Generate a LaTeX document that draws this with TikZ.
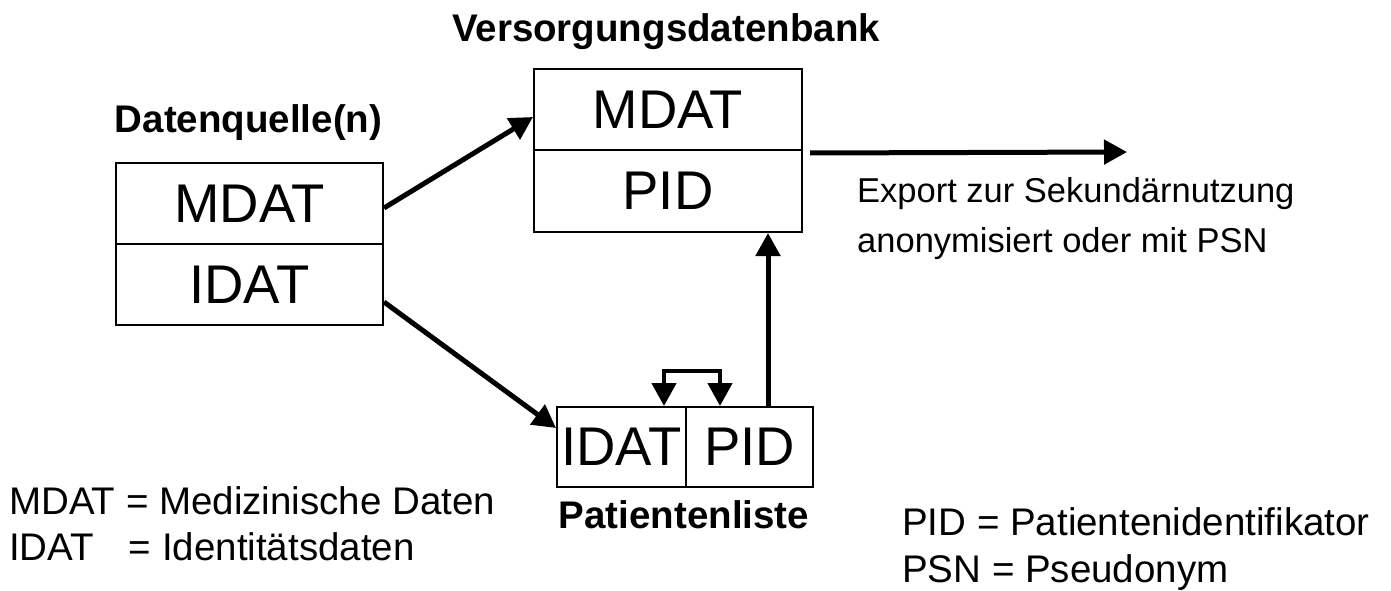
\documentclass[tikz,border=0pt]{standalone}
\usepackage{fontspec}
\setmainfont{Liberation Sans}
\usetikzlibrary{arrows.meta,calc}
\tikzset{
  cell/.style={draw, line width=2pt, inner sep=0pt, font=\fontsize{54.5}{60}\selectfont},
  title/.style={font=\bfseries\fontsize{38.5}{44}\selectfont, inner sep=0pt},
  note/.style={font=\fontsize{38.5}{44}\selectfont, inner sep=0pt},
  small/.style={font=\fontsize{34.5}{40}\selectfont, inner sep=0pt},
  tip/.tip={Triangle[length=23pt,width=24pt]},
  flow/.style={line width=5pt, -tip},
  swap/.style={line width=4.5pt, tip-tip},
}
\begin{document}
\begin{tikzpicture}[x=1pt,y=1pt]
\useasboundingbox (0,0) rectangle (1391,590);

% data source(s)
\node[cell, minimum width=267pt, minimum height=81pt] (mdatL) at (249.5,386.5) {MDAT};
\node[cell, minimum width=267pt, minimum height=81pt] (idatL) at (249.5,305.5) {IDAT};
\node[title, anchor=base] (tDq) at (248.5,457) {Datenquelle(n)};

% care database
\node[cell, minimum width=268pt, minimum height=81pt] (mdatT) at (668,480.5) {MDAT};
\node[cell, minimum width=268pt, minimum height=82pt] (pidT) at (668,399) {PID};
\node[title, anchor=base] (tVdb) at (666,548) {Versorgungsdatenbank};

% patient list
\node[cell, minimum width=129pt, minimum height=80pt] (idatP) at (621.5,143) {IDAT};
\node[cell, minimum width=127pt, minimum height=80pt] (pidP) at (749.5,143) {PID};
\node[title, anchor=base] (tPl) at (684,62) {Patientenliste};

% export
\coordinate (expEnd) at (1127,438);
\node[small, anchor=base west] (exp1) at (857,387) {Export zur Sekundärnutzung};
\node[small, anchor=base west] (exp2) at (857,338) {anonymisiert oder mit PSN};

% legends
\node[note, anchor=base west] (lgM) at (9,76) {MDAT = Medizinische Daten};
\node[note, anchor=base west] (lgI) at (9,30) {\makebox[3.111em][l]{IDAT}= Identitätsdaten};
\node[note, anchor=base west] (lgP) at (902,55) {PID = Patientenidentifikator};
\node[note, anchor=base west] (lgS) at (902,8) {PSN = Pseudonym};

% connectors
\draw[flow] ([yshift=-4.5pt]mdatL.east) -- ([yshift=-7.5pt]mdatT.west);
\draw[flow] ([yshift=-17.5pt]idatL.east) -- ([yshift=19pt]idatP.west);
\draw[flow] ([xshift=7pt,yshift=-2pt]mdatT.south east) -- (expEnd);
\coordinate (up) at ([xshift=-46pt]pidP.north east);
\draw[flow] (up) -- (up |- pidT.south);
\draw[swap] ([xshift=-23pt]idatP.north east) -- ++(0,35) -| ([xshift=35pt]pidP.north west);
\end{tikzpicture}
\end{document}
